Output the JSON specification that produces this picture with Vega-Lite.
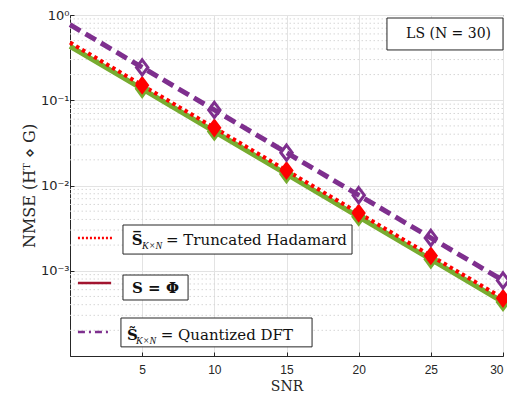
{
  "$schema": "https://vega.github.io/schema/vega-lite/v6.json",
  "width": 433,
  "height": 341,
  "autosize": {"type": "none"},
  "padding": {"left": 70, "top": 15, "right": 4, "bottom": 38},
  "background": "white",
  "config": {
    "view": {"stroke": "#262626", "strokeWidth": 1},
    "font": "Liberation Sans"
  },
  "datasets": {
    "series": [
      {"snr": 0, "nmse": 0.43, "s": "phi_green"},
      {"snr": 5, "nmse": 0.136, "s": "phi_green"},
      {"snr": 10, "nmse": 0.043, "s": "phi_green"},
      {"snr": 15, "nmse": 0.0136, "s": "phi_green"},
      {"snr": 20, "nmse": 0.0043, "s": "phi_green"},
      {"snr": 25, "nmse": 0.00136, "s": "phi_green"},
      {"snr": 30, "nmse": 0.00043, "s": "phi_green"},
      {"snr": 0, "nmse": 0.475, "s": "hadamard"},
      {"snr": 5, "nmse": 0.15, "s": "hadamard"},
      {"snr": 10, "nmse": 0.0475, "s": "hadamard"},
      {"snr": 15, "nmse": 0.015, "s": "hadamard"},
      {"snr": 20, "nmse": 0.00475, "s": "hadamard"},
      {"snr": 25, "nmse": 0.0015, "s": "hadamard"},
      {"snr": 30, "nmse": 0.000475, "s": "hadamard"},
      {"snr": 0, "nmse": 0.77, "s": "dft"},
      {"snr": 5, "nmse": 0.243, "s": "dft"},
      {"snr": 10, "nmse": 0.077, "s": "dft"},
      {"snr": 15, "nmse": 0.0243, "s": "dft"},
      {"snr": 20, "nmse": 0.0077, "s": "dft"},
      {"snr": 25, "nmse": 0.00243, "s": "dft"},
      {"snr": 30, "nmse": 0.00077, "s": "dft"}
    ],
    "minor": [
      {"v": 0.0002}, {"v": 0.0003}, {"v": 0.0004}, {"v": 0.0005}, {"v": 0.0006}, {"v": 0.0007}, {"v": 0.0008}, {"v": 0.0009},
      {"v": 0.002}, {"v": 0.003}, {"v": 0.004}, {"v": 0.005}, {"v": 0.006}, {"v": 0.007}, {"v": 0.008}, {"v": 0.009},
      {"v": 0.02}, {"v": 0.03}, {"v": 0.04}, {"v": 0.05}, {"v": 0.06}, {"v": 0.07}, {"v": 0.08}, {"v": 0.09},
      {"v": 0.2}, {"v": 0.3}, {"v": 0.4}, {"v": 0.5}, {"v": 0.6}, {"v": 0.7}, {"v": 0.8}, {"v": 0.9}
    ],
    "legendlines": [
      {"x": 0.55, "x2": 2.95, "y": 0.00242, "s": "hadamard"},
      {"x": 0.55, "x2": 2.85, "y": 0.000718, "s": "phi"},
      {"x": 0.55, "x2": 2.85, "y": 0.000191, "s": "dft"}
    ],
    "boxes": [
      {"x": 3.67, "x2": 19.54, "y": 0.00344, "y2": 0.00157},
      {"x": 3.67, "x2": 8.18, "y": 0.000891, "y2": 0.000454},
      {"x": 3.53, "x2": 16.77, "y": 0.000279, "y2": 0.000128},
      {"x": 21.96, "x2": 30, "y": 0.922, "y2": 0.389}
    ]
  },
  "encoding": {
    "x": {
      "type": "quantitative",
      "scale": {"domain": [0, 30], "nice": false, "zero": false}
    },
    "y": {
      "type": "quantitative",
      "scale": {"type": "log", "domain": [0.0001, 1], "nice": false}
    }
  },
  "layer": [
    {
      "data": {"name": "minor"},
      "mark": {"type": "rule", "color": "#d6d6d6", "strokeWidth": 1, "strokeDash": [1.5, 2.5]},
      "encoding": {
        "y": {"field": "v", "type": "quantitative", "axis": {
          "values": [0.0001, 0.001, 0.01, 0.1, 1],
          "labelExpr": "datum.value >= 0.99 ? '10⁰' : datum.value >= 0.099 ? '10⁻¹' : datum.value >= 0.0099 ? '10⁻²' : datum.value >= 0.00099 ? '10⁻³' : ''",
          "grid": true, "gridColor": "#e3e3e3", "gridWidth": 1,
          "domainColor": "#262626", "domainWidth": 1,
          "tickColor": "#262626", "tickSize": -4,
          "labelFont": "DejaVu Sans", "labelFontSize": 13, "labelColor": "#262626", "labelPadding": 5,
          "title": "NMSE (Hᵀ ⋄ G)", "titleFont": "DejaVu Serif", "titleFontSize": 16,
          "titleFontWeight": "normal", "titleColor": "#262626", "titlePadding": 3
        }}
      }
    },
    {
      "data": {"name": "series"},
      "transform": [{"filter": "datum.s == 'phi_green'"}],
      "mark": {"type": "line", "color": "#77AC30", "strokeWidth": 5},
      "encoding": {
        "x": {"field": "snr", "type": "quantitative", "axis": {
          "values": [5, 10, 15, 20, 25, 30],
          "grid": true, "gridColor": "#e3e3e3", "gridWidth": 1,
          "domainColor": "#262626", "tickColor": "#262626", "tickSize": -4,
          "labelFont": "Liberation Sans", "labelFontSize": 12, "labelColor": "#262626", "labelPadding": 12,
          "title": "SNR", "titleFont": "DejaVu Serif", "titleFontSize": 14,
          "titleFontWeight": "normal", "titleColor": "#262626", "titlePadding": 4
        }},
        "y": {"field": "nmse", "type": "quantitative"}
      }
    },
    {
      "data": {"name": "series"},
      "transform": [{"filter": "datum.s == 'hadamard'"}],
      "mark": {"type": "line", "color": "#FF0000", "strokeWidth": 4, "strokeDash": [3.5, 3.5]},
      "encoding": {
        "x": {"field": "snr", "type": "quantitative"},
        "y": {"field": "nmse", "type": "quantitative"}
      }
    },
    {
      "data": {"name": "series"},
      "transform": [{"filter": "datum.s == 'dft'"}],
      "mark": {"type": "line", "color": "#7E2F8E", "strokeWidth": 5, "strokeDash": [12, 6]},
      "encoding": {
        "x": {"field": "snr", "type": "quantitative"},
        "y": {"field": "nmse", "type": "quantitative"}
      }
    },
    {
      "data": {"name": "series"},
      "transform": [{"filter": "datum.s == 'phi_green' && datum.snr > 0"}],
      "mark": {"type": "point", "shape": "M0,-1L0.75,0L0,1L-0.75,0Z", "size": 280, "filled": true, "color": "#77AC30", "stroke": "#77AC30", "strokeWidth": 2, "opacity": 1},
      "encoding": {
        "x": {"field": "snr", "type": "quantitative"},
        "y": {"field": "nmse", "type": "quantitative"}
      }
    },
    {
      "data": {"name": "series"},
      "transform": [{"filter": "datum.s == 'hadamard' && datum.snr > 0"}],
      "mark": {"type": "point", "shape": "M0,-1L0.75,0L0,1L-0.75,0Z", "size": 250, "filled": true, "color": "#FF0000", "stroke": "#FF0000", "strokeWidth": 2, "opacity": 1},
      "encoding": {
        "x": {"field": "snr", "type": "quantitative"},
        "y": {"field": "nmse", "type": "quantitative"}
      }
    },
    {
      "data": {"name": "series"},
      "transform": [{"filter": "datum.s == 'dft' && datum.snr > 0"}],
      "mark": {"type": "point", "shape": "M0,-1L0.75,0L0,1L-0.75,0Z", "size": 230, "filled": false, "color": "#7E2F8E", "strokeWidth": 3, "opacity": 1},
      "encoding": {
        "x": {"field": "snr", "type": "quantitative"},
        "y": {"field": "nmse", "type": "quantitative"}
      }
    },
    {
      "data": {"name": "legendlines"},
      "transform": [{"filter": "datum.s == 'hadamard'"}],
      "mark": {"type": "rule", "color": "#FF0000", "strokeWidth": 2.5, "strokeDash": [2, 2]},
      "encoding": {
        "x": {"field": "x", "type": "quantitative"},
        "x2": {"field": "x2"},
        "y": {"field": "y", "type": "quantitative"}
      }
    },
    {
      "data": {"name": "legendlines"},
      "transform": [{"filter": "datum.s == 'phi'"}],
      "mark": {"type": "rule", "color": "#A2142F", "strokeWidth": 2.5},
      "encoding": {
        "x": {"field": "x", "type": "quantitative"},
        "x2": {"field": "x2"},
        "y": {"field": "y", "type": "quantitative"}
      }
    },
    {
      "data": {"name": "legendlines"},
      "transform": [{"filter": "datum.s == 'dft'"}],
      "mark": {"type": "rule", "color": "#7E2F8E", "strokeWidth": 2.5, "strokeDash": [7, 4, 2, 4]},
      "encoding": {
        "x": {"field": "x", "type": "quantitative"},
        "x2": {"field": "x2"},
        "y": {"field": "y", "type": "quantitative"}
      }
    },
    {
      "data": {"name": "boxes"},
      "mark": {"type": "rect", "fill": "white", "stroke": "#262626", "strokeWidth": 1},
      "encoding": {
        "x": {"field": "x", "type": "quantitative"},
        "x2": {"field": "x2"},
        "y": {"field": "y", "type": "quantitative"},
        "y2": {"field": "y2"}
      }
    },
    {
      "data": {"values": [
        {"x": 4.27, "y": 0.0023, "t": "S̅", "k": "bold"},
        {"x": 4.99, "y": 0.00196, "t": "K×N", "k": "sub"},
        {"x": 6.65, "y": 0.0023, "t": "= Truncated Hadamard", "k": "plain"},
        {"x": 4.3, "y": 0.000628, "t": "S = Φ", "k": "bold"},
        {"x": 3.95, "y": 0.000176, "t": "S̃", "k": "bold"},
        {"x": 4.57, "y": 0.00015, "t": "K×N", "k": "sub"},
        {"x": 6.28, "y": 0.000176, "t": "= Quantized DFT", "k": "plain"},
        {"x": 26.23, "y": 0.6, "t": "LS  (N = 30)", "k": "ls"}
      ]},
      "layer": [
        {
          "transform": [{"filter": "datum.k == 'plain'"}],
          "mark": {"type": "text", "align": "left", "baseline": "middle", "font": "DejaVu Serif", "fontSize": 15, "color": "#111111"},
          "encoding": {
            "x": {"field": "x", "type": "quantitative"},
            "y": {"field": "y", "type": "quantitative"},
            "text": {"field": "t"}
          }
        },
        {
          "transform": [{"filter": "datum.k == 'ls'"}],
          "mark": {"type": "text", "align": "center", "baseline": "middle", "font": "DejaVu Serif", "fontSize": 14, "color": "#111111"},
          "encoding": {
            "x": {"field": "x", "type": "quantitative"},
            "y": {"field": "y", "type": "quantitative"},
            "text": {"field": "t"}
          }
        },
        {
          "transform": [{"filter": "datum.k == 'bold'"}],
          "mark": {"type": "text", "align": "left", "baseline": "middle", "font": "DejaVu Serif", "fontSize": 15, "fontWeight": "bold", "color": "#111111"},
          "encoding": {
            "x": {"field": "x", "type": "quantitative"},
            "y": {"field": "y", "type": "quantitative"},
            "text": {"field": "t"}
          }
        },
        {
          "transform": [{"filter": "datum.k == 'sub'"}],
          "mark": {"type": "text", "align": "left", "baseline": "middle", "font": "Liberation Serif", "fontSize": 10, "fontStyle": "italic", "color": "#111111"},
          "encoding": {
            "x": {"field": "x", "type": "quantitative"},
            "y": {"field": "y", "type": "quantitative"},
            "text": {"field": "t"}
          }
        }
      ]
    }
  ]
}
